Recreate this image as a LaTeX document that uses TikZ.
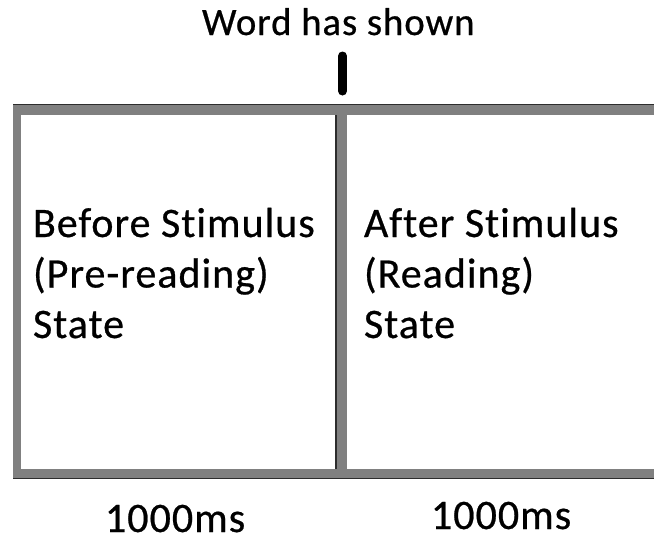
\documentclass[tikz,border=0pt]{standalone}
\usepackage{fontspec}
\setmainfont{Carlito}[Ligatures=NoCommon, LetterSpace=2.4, FakeBold=0.6]
\definecolor{band}{RGB}{128,128,128}
\definecolor{bandedge}{RGB}{45,45,45}
\tikzset{
  bandfill/.style={fill=band, draw=none},
  edge/.style={draw=bandedge, line width=1.6pt},
  lbl/.style={anchor=base west, inner sep=0pt, outer sep=0pt, text=black},
  boxtext/.style={lbl, align=left, font=\fontsize{42}{50.5}\selectfont},
  timetext/.style={lbl, font=\fontsize{42}{50}\selectfont},
  toptext/.style={lbl, font=\fontsize{38.8}{46}\selectfont},
  marker/.style={draw=black, line width=9pt, line cap=round}
}
\begin{document}
\begin{tikzpicture}[x=1pt, y=-1pt]
\useasboundingbox (0,0) rectangle (654,542);
\fill[white] (0,0) rectangle (654,542);
% frame bands
\path[bandfill] (13,104) rectangle (654,115);
\path[bandfill] (13,469) rectangle (654,479);
\path[bandfill] (13,104) rectangle (21,479);
\path[bandfill] (335,104) rectangle (347,479);
\coordinate (tl) at (13,104.6);
\coordinate (tr) at (654,104.6);
\coordinate (bl) at (13,478.4);
\coordinate (br) at (654,478.4);
\coordinate (mt) at (336,115);
\coordinate (mb) at (336,469);
\draw[edge] (tl) -- (tr);
\draw[edge] (bl) -- (br);
\draw[edge, line width=2.5pt] (mt) -- (mb);
% marker
\coordinate (m1) at (342.5,56);
\coordinate (m2) at (342.5,91);
\draw[marker] (m1) -- (m2);
% texts
\node[toptext] (word) at (202,35) {Word has shown};
\node[boxtext] (before) at (33,338) {Before Stimulus\\(Pre-reading)\\State};
\node[boxtext] (after) at (364,338) {After Stimulus\\(Reading)\\State};
\node[timetext] (t1) at (105,532) {1000ms};
\node[timetext] (t2) at (431,529) {1000ms};
\end{tikzpicture}
\end{document}
